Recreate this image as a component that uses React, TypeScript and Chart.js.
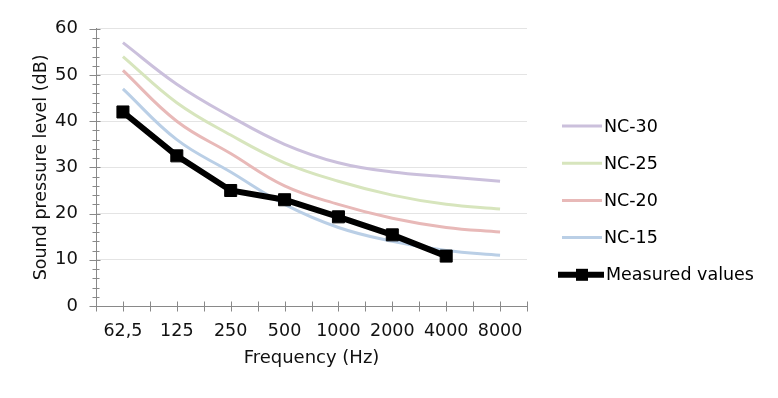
import React, { useEffect, useRef } from "react";
import { Chart, registerables } from "chart.js";

Chart.register(...registerables);

const categories = ["62,5", "125", "250", "500", "1000", "2000", "4000", "8000"];
const nc30 = [57, 48, 41, 35, 31, 29, 28, 27];
const nc25 = [54, 44, 37, 31, 27, 24, 22, 21];
const nc20 = [51, 40, 33, 26, 22, 19, 17, 16];
const nc15 = [47, 36, 29, 22, 17, 14, 12, 11];
const measured = [42, 32.5, 25, 23, 19.3, 15.4, 10.8];
const yTicksMajor = [0, 10, 20, 30, 40, 50, 60];

const FONT = "'DejaVu Sans', 'Liberation Sans', Arial, sans-serif";
const AXIS_COLOR = "#898989";

const toPoints = (arr: number[]) => arr.map((v, i) => ({ x: i, y: v }));

const tickMarkPlugin = {
  id: "crossTicks",
  afterDraw(chart: any) {
    const { ctx, scales } = chart;
    const xs = scales.x;
    const ys = scales.y;
    ctx.save();
    ctx.strokeStyle = AXIS_COLOR;
    ctx.lineWidth = 1;
    const ax = Math.round(xs.left) + 0.5;
    ys.ticks.forEach((t: any) => {
      const py = Math.round(ys.getPixelForValue(t.value)) + 0.5;
      const major = yTicksMajor.includes(t.value);
      ctx.beginPath();
      ctx.moveTo(ax - (major ? 7 : 4), py);
      ctx.lineTo(ax + (major ? 4 : 3), py);
      ctx.stroke();
    });
    const ay = Math.round(ys.bottom) + 0.5;
    xs.ticks.forEach((t: any) => {
      const px = Math.round(xs.getPixelForValue(t.value)) + 0.5;
      ctx.beginPath();
      ctx.moveTo(px, ay - 5);
      ctx.lineTo(px, ay + 5);
      ctx.stroke();
    });
    ctx.restore();
  },
};

const legendPlugin = {
  id: "customLegend",
  afterDraw(chart: any) {
    const { ctx } = chart;
    const x0 = 562;
    const x1 = 602;
    const yStart = 126;
    const gap = 37.2;
    ctx.save();
    chart.data.datasets.forEach((ds: any, i: number) => {
      const y = yStart + i * gap;
      ctx.strokeStyle = ds.borderColor;
      ctx.lineWidth = ds.borderWidth;
      ctx.beginPath();
      const isMeasured = ds.pointRadius > 0;
      ctx.moveTo(isMeasured ? x0 - 4 : x0, y);
      ctx.lineTo(isMeasured ? x1 + 2 : x1, y);
      ctx.stroke();
      if (isMeasured) {
        ctx.fillStyle = ds.borderColor;
        ctx.fillRect(x0 + 14, y - 6, 12, 12);
      }
      ctx.fillStyle = "#000";
      ctx.font = `17.5px ${FONT}`;
      ctx.textBaseline = "middle";
      ctx.textAlign = "left";
      ctx.fillText(ds.label, isMeasured ? x1 + 4 : x1 + 2, y + 1);
    });
    ctx.restore();
  },
};

export default function App() {
  const ref = useRef<HTMLCanvasElement | null>(null);

  useEffect(() => {
    if (!ref.current) return;
    const chart = new Chart(ref.current, {
      type: "line",
      data: {
        datasets: [
          { label: "NC-30", data: toPoints(nc30), borderColor: "#cbc0dc", borderWidth: 3, pointRadius: 0, tension: 0.4, order: 1 },
          { label: "NC-25", data: toPoints(nc25), borderColor: "#d7e5bd", borderWidth: 3, pointRadius: 0, tension: 0.4, order: 1 },
          { label: "NC-20", data: toPoints(nc20), borderColor: "#e8b9b8", borderWidth: 3, pointRadius: 0, tension: 0.4, order: 1 },
          { label: "NC-15", data: toPoints(nc15), borderColor: "#bacfe6", borderWidth: 3, pointRadius: 0, tension: 0.4, order: 1 },
          {
            label: "Measured values",
            data: toPoints(measured),
            borderColor: "#000",
            backgroundColor: "#000",
            borderWidth: 6,
            pointStyle: "rect",
            pointRadius: 8.5,
            pointBorderWidth: 1,
            tension: 0,
            order: 0,
          },
        ] as any,
      },
      options: {
        animation: false,
        responsive: true,
        maintainAspectRatio: false,
        layout: { padding: { top: 24, right: 251, left: 0, bottom: 0 } },
        plugins: {
          legend: { display: false },
          tooltip: { enabled: false },
        },
        scales: {
          x: {
            type: "linear",
            min: -0.5,
            max: 7.5,
            afterFit: (s: any) => {
              s.height = 92;
            },
            ticks: {
              stepSize: 0.5,
              autoSkip: false,
              maxRotation: 0,
              padding: 15,
              color: "#111",
              font: { family: FONT, size: 17.5 },
              callback: (v: any) => (Number.isInteger(v) && categories[v] !== undefined ? categories[v] : ""),
            },
            grid: { drawOnChartArea: false, drawTicks: false, color: AXIS_COLOR },
            border: { display: true, color: AXIS_COLOR, width: 1 },
            title: {
              display: true,
              text: "Frequency (Hz)",
              color: "#111",
              font: { family: FONT, size: 18 },
              padding: { top: 0, bottom: 29 },
            },
          },
          y: {
            type: "linear",
            min: 0,
            max: 60,
            afterFit: (s: any) => {
              s.width = 96;
            },
            ticks: {
              stepSize: 2,
              autoSkip: false,
              padding: 18,
              color: "#111",
              font: { family: FONT, size: 18 },
              callback: (v: any) => (yTicksMajor.includes(v) ? String(v) : ""),
            },
            grid: {
              drawTicks: false,
              color: (c: any) => (c.tick && yTicksMajor.includes(c.tick.value) ? "#e4e4e4" : "rgba(0,0,0,0)"),
            },
            border: { display: true, color: AXIS_COLOR, width: 1 },
            title: {
              display: true,
              text: "Sound pressure level (dB)",
              color: "#111",
              font: { family: FONT, size: 17.5 },
              padding: { top: 30.5, bottom: 0 },
            },
          },
        },
      },
      plugins: [tickMarkPlugin, legendPlugin],
    });
    return () => chart.destroy();
  }, []);

  return (
    <div style={{ position: "fixed", left: 0, top: 0, width: 778, height: 398, background: "#fff" }}>
      <canvas ref={ref} />
    </div>
  );
}
